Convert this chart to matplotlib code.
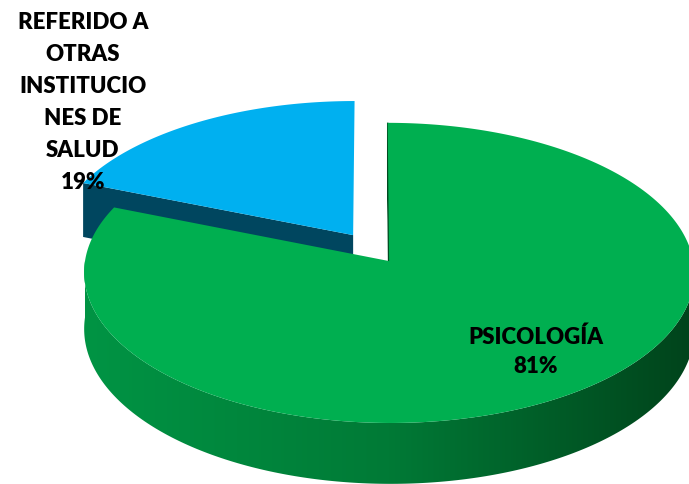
import matplotlib
matplotlib.use('Agg')
import numpy as np
import matplotlib.pyplot as plt
from matplotlib.patches import Polygon
from matplotlib.colors import LinearSegmentedColormap

# data
labels = ['REFERIDO A\nOTRAS\nINSTITUCIO\nNES DE\nSALUD', 'PSICOLOGÍA']
values = [19, 81]
top_colors = ['#00B0F0', '#00AF50']
face_colors = ['#00465F', '#00682C']

fig = plt.figure(figsize=(6.89, 4.85), dpi=100)
ax = fig.add_axes([0, 0, 1, 1])
ax.set_xlim(0, 689)
ax.set_ylim(485, 0)
ax.set_axis_off()

# 3d pie layout (pixels)
CX, CY = 371, 249
R, TB, DEPTH, PERSP = 302, 148, 56, 0.08
EXPLODE = 0.106


def proj(u, v, h):
    s = 1 - PERSP * v
    return CX + R * u * s, CY - TB * v * s + DEPTH * h * s


# slices: start at 90 deg, first slice counterclockwise
fracs = np.array(values) / np.sum(values)
a0 = 90.0
slices = [(a0, a0 + 360 * fracs[0]), (a0 + 360 * fracs[0], a0 + 360)]

wall_cmap = LinearSegmentedColormap.from_list('wall', ['#009444', '#007A36', '#00431B'])

centers = []
for (t1, t2) in slices:
    mid = np.radians((t1 + t2) / 2)
    centers.append((EXPLODE * np.cos(mid), EXPLODE * np.sin(mid)))


def rim(c, th, h):
    return proj(c[0] + np.cos(th), c[1] + np.sin(th), h)


# blue slice: cut face along its second edge, then top
c = centers[0]
t1, t2 = np.radians(slices[0])
apex_t = proj(c[0], c[1], 0)
apex_b = proj(c[0], c[1], 1)
ax.add_patch(Polygon([apex_t, rim(c, t2, 0), rim(c, t2, 1), apex_b],
                     closed=True, fc=face_colors[0], ec='none', zorder=1))
th = np.linspace(t1, t2, 120)
pts = [apex_t] + [rim(c, t, 0) for t in th]
ax.add_patch(Polygon(pts, closed=True, fc=top_colors[0], ec='none', zorder=2))

# green slice: cut face at 90 deg edge, outer wall, top
c = centers[1]
t1, t2 = np.radians(slices[1])
apex_t = proj(c[0], c[1], 0)
apex_b = proj(c[0], c[1], 1)
ax.add_patch(Polygon([apex_t, rim(c, t2, 0), rim(c, t2, 1), apex_b],
                     closed=True, fc='#004A20', ec='#004A20', lw=1, zorder=3))
wall = np.linspace(np.pi, 2 * np.pi, 240)
wall_pts = [rim(c, t, 0) for t in wall] + [rim(c, t, 1) for t in wall[::-1]]
wall_poly = Polygon(wall_pts, closed=True, fc='none', ec='none')
ax.add_patch(wall_poly)
xs = [p[0] for p in wall_pts]
ys = [p[1] for p in wall_pts]
grad = np.linspace(0, 1, 256).reshape(1, -1)
im = ax.imshow(grad, cmap=wall_cmap, aspect='auto', zorder=4,
               extent=[min(xs), max(xs), max(ys), min(ys)], interpolation='bilinear')
im.set_clip_path(wall_poly)
th = np.linspace(t1, t2, 400)
pts = [apex_t] + [rim(c, t, 0) for t in th]
ax.add_patch(Polygon(pts, closed=True, fc=top_colors[1], ec='none', zorder=5))

ax.set_xlim(0, 689)
ax.set_ylim(485, 0)

# labels
font = dict(family=['Lato', 'DejaVu Sans'], fontweight='heavy', fontsize=16,
            color='black', ha='center', va='center', zorder=10)
ax.text(83, 102.5, f'{labels[0]}\n{values[0]}%', linespacing=1.64, **font)
ax.text(536, 352, f'{labels[1]}\n{values[1]}%', linespacing=1.5, **font)

plt.savefig('out.png', dpi=100)
plt.close(fig)
